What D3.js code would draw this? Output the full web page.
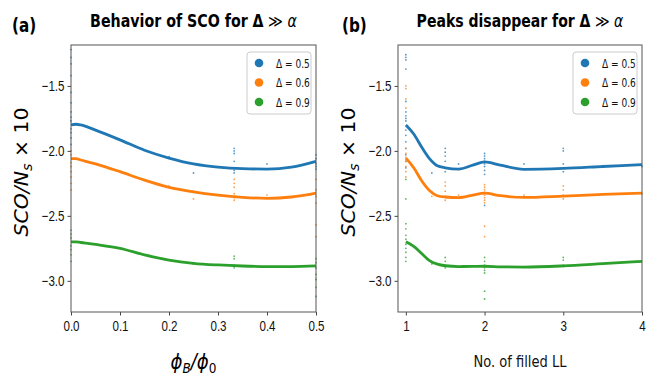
<!DOCTYPE html>
<html>
<head>
<meta charset="utf-8">
<script src="https://cdn.jsdelivr.net/npm/d3@7"></script>
<style>
  body { margin: 0; background: #fff; }
  svg { font-family: "DejaVu Sans", sans-serif; }
</style>
</head>
<body>
<div id="chart"></div>
<script>
const seriesNames = ["Δ = 0.5", "Δ = 0.6", "Δ = 0.9"];
const colors = ["#1f77b4", "#ff7f0e", "#2ca02c"];

// panel (a): flux phi_B/phi_0
const fluxX = [0, 0.01, 0.02, 0.05, 0.1, 0.15, 0.2, 0.25, 0.3, 0.35, 0.4, 0.45, 0.5];
const fluxBlue = [-1.80, -1.795, -1.80, -1.84, -1.915, -1.995, -2.055, -2.10, -2.125, -2.137, -2.14, -2.125, -2.08];
const fluxOrange = [-2.06, -2.06, -2.07, -2.10, -2.16, -2.225, -2.28, -2.315, -2.34, -2.357, -2.365, -2.355, -2.325];
const fluxGreen = [-2.70, -2.70, -2.705, -2.72, -2.75, -2.80, -2.84, -2.865, -2.878, -2.886, -2.89, -2.89, -2.885];

// panel (b): number of filled Landau levels
const llX = [1, 1.1, 1.2, 1.3, 1.4, 1.5, 1.67, 1.85, 2, 2.2, 2.5, 3, 3.5, 4];
const llBlue = [-1.80, -1.87, -1.97, -2.06, -2.115, -2.13, -2.14, -2.11, -2.085, -2.11, -2.142, -2.135, -2.12, -2.105];
const llOrange = [-2.056, -2.13, -2.23, -2.305, -2.345, -2.355, -2.36, -2.34, -2.325, -2.345, -2.358, -2.348, -2.335, -2.325];
const llGreen = [-2.70, -2.735, -2.79, -2.845, -2.872, -2.884, -2.89, -2.889, -2.888, -2.892, -2.894, -2.885, -2.868, -2.85];

// raw sample points scattered around the fits
const fluxDotsBlue = [[0,-1.22],[0,-1.28],[0,-1.33],[0,-1.42],[0,-1.55],[0,-1.63],[0,-1.70],[0,-1.74],[0,-1.77],[0,-1.83],[0,-1.86],[0,-1.90],[0,-1.95],
  [0.2,-2.045],[0.25,-2.10],[0.25,-2.17],[0.333,-1.98],[0.333,-2.0],[0.333,-2.02],[0.333,-2.08],[0.333,-2.13],[0.333,-2.15],[0.333,-2.17],[0.4,-2.10],
  [0.5,-2.03],[0.5,-2.06],[0.5,-2.1],[0.5,-2.12],[0.5,-2.14]];
const fluxDotsOrange = [[0,-2.0],[0,-2.03],[0,-2.09],[0,-2.12],[0,-2.16],[0,-2.2],[0,-2.25],[0,-2.3],
  [0.2,-2.27],[0.25,-2.31],[0.25,-2.37],[0.333,-2.22],[0.333,-2.25],[0.333,-2.28],[0.333,-2.33],[0.333,-2.36],[0.333,-2.38],[0.4,-2.34],
  [0.5,-2.22],[0.5,-2.3],[0.5,-2.35],[0.5,-2.4],[0.5,-2.57],[0.5,-2.66]];
const fluxDotsGreen = [[0,-2.61],[0,-2.64],[0,-2.67],[0,-2.73],[0,-2.76],[0,-2.8],[0,-2.85],
  [0.2,-2.84],[0.25,-2.86],[0.25,-2.87],[0.333,-2.81],[0.333,-2.83],[0.333,-2.88],[0.333,-2.90],[0.4,-2.89],
  [0.5,-2.83],[0.5,-2.86],[0.5,-2.9],[0.5,-2.95],[0.5,-2.99],[0.5,-3.05],[0.5,-3.12]];

const llDotsBlue = [[1,-1.26],[1,-1.28],[1,-1.30],[1,-1.37],[1,-1.62],[1,-1.70],[1,-1.73],[1,-1.75],[1,-1.77],[1,-1.84],[1,-1.88],[1,-1.93],[1,-1.98],[1,-2.03],[1,-2.08],[1,-2.13],
  [1.33,-2.17],[1.5,-1.98],[1.5,-2.01],[1.5,-2.04],[1.5,-2.08],[1.5,-2.13],[1.5,-2.16],[1.67,-2.10],
  [2,-2.02],[2,-2.04],[2,-2.06],[2,-2.08],[2,-2.10],[2,-2.12],[2,-2.15],[2,-2.18],[2,-2.42],[2.5,-2.10],
  [3,-1.98],[3,-2.0],[3,-2.1],[3,-2.13],[3,-2.16],[4,-2.12]];
const llDotsOrange = [[1,-1.50],[1,-1.52],[1,-1.60],[1,-1.67],[1,-1.98],[1,-2.02],[1,-2.05],[1,-2.08],[1,-2.12],[1,-2.16],[1,-2.20],
  [1.33,-2.35],[1.5,-2.24],[1.5,-2.27],[1.5,-2.31],[1.5,-2.35],[1.5,-2.38],[1.67,-2.34],
  [2,-2.26],[2,-2.28],[2,-2.30],[2,-2.32],[2,-2.34],[2,-2.36],[2,-2.38],[2,-2.40],[2,-2.58],[2,-2.66],[2.5,-2.34],
  [3,-2.27],[3,-2.30],[3,-2.34],[3,-2.37],[4,-2.33]];
const llDotsGreen = [[1,-2.22],[1,-2.37],[1,-2.56],[1,-2.60],[1,-2.65],[1,-2.68],[1,-2.72],[1,-2.75],[1,-2.78],[1,-2.82],[1,-2.85],
  [1.33,-2.87],[1.5,-2.82],[1.5,-2.85],[1.5,-2.88],[1.5,-2.90],[1.67,-2.89],
  [2,-2.82],[2,-2.85],[2,-2.88],[2,-2.90],[2,-2.92],[2,-2.94],[2,-3.08],[2,-3.14],[2.5,-2.89],
  [3,-2.82],[3,-2.84],[3,-2.88],[3,-2.89]];

const yTicks = [-1.5, -2.0, -2.5, -3.0];
const fluxTicks = [0, 0.1, 0.2, 0.3, 0.4, 0.5];
const llTicks = [1, 2, 3, 4];

const W = 659, H = 377;
const svg = d3.select("#chart").append("svg").attr("width", W).attr("height", H);

const squeeze = 0.8;
function narrow(sel, k) {
  sel.each(function () {
    const len = this.getComputedTextLength();
    d3.select(this).attr("textLength", len * (k || squeeze)).attr("lengthAdjust", "spacingAndGlyphs");
  });
}

// text with tspans: squeeze it to a given width with a transform
function fitText(x, y, width, rotate, build) {
  const g = svg.append("g");
  const t = g.append("text").attr("text-anchor", "middle");
  build(t);
  const w = t.node().getBBox().width;
  g.attr("transform", `translate(${x},${y})${rotate ? " rotate(-90)" : ""} scale(${width / w},1)`);
  return t;
}

function panel(opt) {
  const x = d3.scaleLinear().domain(opt.xDomain).range([opt.left, opt.right]);
  const y = d3.scaleLinear().domain([-3.24, -1.185]).range([312, 45]);
  const g = svg.append("g");

  // series
  const lineGen = d3.line().x((d) => x(d[0])).y((d) => y(d[1])).curve(d3.curveMonotoneX);
  opt.lines.forEach((vals, i) => {
    const pts = opt.xs.map((v, j) => [v, vals[j]]);
    g.append("path").attr("d", lineGen(pts)).attr("fill", "none")
      .attr("stroke", colors[i]).attr("stroke-width", 2.8).attr("stroke-linejoin", "round");
    g.selectAll(null).data(opt.dots[i]).enter().append("circle")
      .attr("cx", (d) => x(d[0])).attr("cy", (d) => y(d[1])).attr("r", 0.9)
      .attr("fill", colors[i]).attr("opacity", 0.75);
  });

  // axes
  const yAxis = g.append("g").attr("transform", `translate(${opt.left},0)`)
    .call(d3.axisLeft(y).tickValues(yTicks).tickFormat((d) => d3.format(".1f")(d).replace("-", "−")).tickSize(3.5).tickPadding(3));
  const xAxis = g.append("g").attr("transform", "translate(0,312)")
    .call(d3.axisBottom(x).tickValues(opt.xTicks).tickFormat(opt.xFormat).tickSize(3.5).tickPadding(5));
  [xAxis, yAxis].forEach((a) => {
    a.select(".domain").remove();
    a.selectAll("line").attr("stroke", "#444");
    a.selectAll("text").attr("font-size", 14.5).attr("fill", "#111");
    narrow(a.selectAll("text"));
  });

  g.append("rect").attr("x", opt.left).attr("y", 45).attr("width", opt.right - opt.left).attr("height", 267)
    .attr("fill", "none").attr("stroke", "#555").attr("stroke-width", 1);

  // legend
  const lg = g.append("g").attr("transform", `translate(${opt.right - 69},52)`);
  lg.append("rect").attr("width", 64).attr("height", 62).attr("rx", 3)
    .attr("fill", "#fff").attr("fill-opacity", 0.85).attr("stroke", "#ccc");
  seriesNames.forEach((name, i) => {
    lg.append("circle").attr("cx", 12).attr("cy", 11 + i * 19.5).attr("r", 4.3).attr("fill", colors[i]);
    const t = lg.append("text").attr("x", 29).attr("y", 15.5 + i * 19.5).attr("font-size", 12.5).attr("fill", "#111").text(name);
    narrow(t, 0.72);
  });

  // titles
  const mid = (opt.left + opt.right) / 2;
  const tag = svg.append("text").attr("x", opt.tagX).attr("y", 32).attr("font-size", 19)
    .attr("font-weight", "bold").text(opt.tag);
  narrow(tag, 0.8);
  fitText(mid, 27, 207, false, (t) => {
    t.attr("font-size", 17).attr("font-weight", "bold");
    t.append("tspan").text(opt.title);
    t.append("tspan").attr("font-weight", "normal").text(" ≫ ");
    t.append("tspan").attr("font-style", "italic").attr("font-weight", "normal").text("α");
  });

  // y label
  fitText(opt.left - 43, 172, 129, true, (t) => {
    t.attr("font-size", 20);
    t.append("tspan").attr("font-style", "italic").text("SCO/N");
    t.append("tspan").attr("font-style", "italic").attr("font-size", 14).attr("dy", 4).text("s");
    t.append("tspan").attr("dy", -4).text(" × 10");
  });

  opt.xLabel(mid);
}

panel({
  left: 71, right: 316, xDomain: [0, 0.5], xs: fluxX,
  lines: [fluxBlue, fluxOrange, fluxGreen],
  dots: [fluxDotsBlue, fluxDotsOrange, fluxDotsGreen],
  xTicks: fluxTicks, xFormat: d3.format(".1f"),
  tag: "(a)", tagX: 12, title: "Behavior of SCO for Δ",
  xLabel: (mid) => {
    fitText(mid, 369, 46, false, (t) => {
      t.attr("font-size", 21).attr("font-style", "italic");
      t.append("tspan").text("ϕ");
      t.append("tspan").attr("font-size", 14).attr("dy", 4).text("B");
      t.append("tspan").attr("dy", -4).text("/ϕ");
      t.append("tspan").attr("font-size", 14).attr("font-style", "normal").attr("dy", 4).text("0");
    });
  }
});

panel({
  left: 398, right: 642, xDomain: [0.9, 4], xs: llX,
  lines: [llBlue, llOrange, llGreen],
  dots: [llDotsBlue, llDotsOrange, llDotsGreen],
  xTicks: llTicks, xFormat: d3.format("d"),
  tag: "(b)", tagX: 342, title: "Peaks disappear for Δ",
  xLabel: (mid) => {
    fitText(mid, 367, 93, false, (t) => {
      t.attr("font-size", 16).attr("fill", "#111").text("No. of filled LL");
    });
  }
});
</script>
</body>
</html>
